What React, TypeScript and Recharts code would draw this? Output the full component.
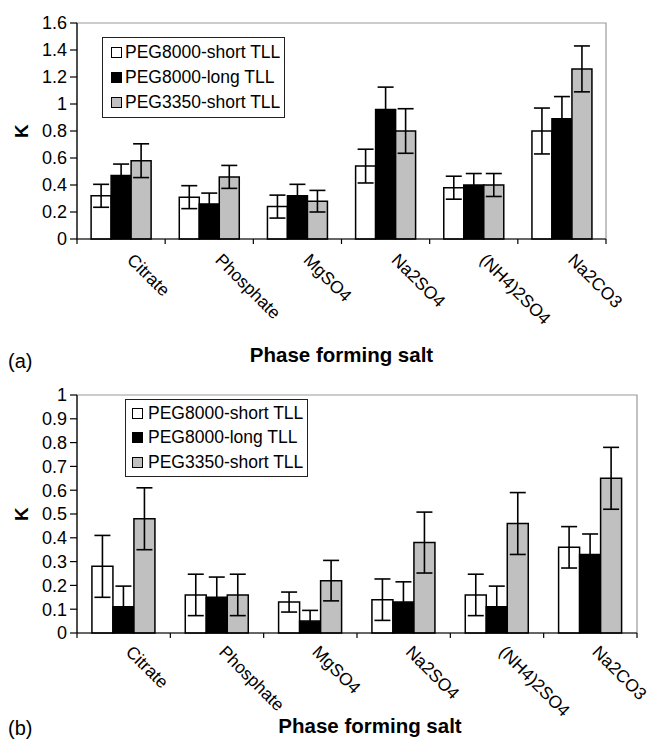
import { BarChart, Bar, XAxis, YAxis, ErrorBar, Legend, ReferenceArea } from "recharts";

const FONT = "'Liberation Sans', Arial, sans-serif";

const categories = ["Citrate", "Phosphate", "MgSO4", "Na2SO4", "(NH4)2SO4", "Na2CO3"];
const seriesNames = ["PEG8000-short TLL", "PEG8000-long TLL", "PEG3350-short TLL"];
const seriesColors = ["#ffffff", "#000000", "#c0c0c0"];

// panel (a)
const shortA = [0.32, 0.31, 0.24, 0.54, 0.38, 0.8];
const shortAErr = [0.085, 0.085, 0.085, 0.125, 0.085, 0.17];
const longA = [0.47, 0.26, 0.32, 0.96, 0.4, 0.89];
const longAErr = [0.085, 0.08, 0.085, 0.165, 0.085, 0.165];
const peg3350A = [0.58, 0.46, 0.28, 0.8, 0.4, 1.26];
const peg3350AErr = [0.125, 0.085, 0.08, 0.165, 0.085, 0.17];
const ticksA = [0, 0.2, 0.4, 0.6, 0.8, 1, 1.2, 1.4, 1.6];

// panel (b)
const shortB = [0.28, 0.16, 0.13, 0.14, 0.16, 0.36];
const shortBErr = [0.13, 0.087, 0.042, 0.087, 0.087, 0.087];
const longB = [0.11, 0.15, 0.05, 0.13, 0.11, 0.33];
const longBErr = [0.087, 0.085, 0.045, 0.085, 0.087, 0.086];
const peg3350B = [0.48, 0.16, 0.22, 0.38, 0.46, 0.65];
const peg3350BErr = [0.13, 0.087, 0.085, 0.128, 0.13, 0.13];
const ticksB = [0, 0.1, 0.2, 0.3, 0.4, 0.5, 0.6, 0.7, 0.8, 0.9, 1];

function buildRows(vals: number[][], errs: number[][]) {
  return categories.map((name, i) => ({
    name,
    s0: vals[0][i],
    e0: errs[0][i],
    s1: vals[1][i],
    e1: errs[1][i],
    s2: vals[2][i],
    e2: errs[2][i],
  }));
}

const rowsA = buildRows([shortA, longA, peg3350A], [shortAErr, longAErr, peg3350AErr]);
const rowsB = buildRows([shortB, longB, peg3350B], [shortBErr, longBErr, peg3350BErr]);

function SaltTick(props: any) {
  const { x, y, payload, halfBand, dx, dy } = props;
  const idx = payload.index ?? props.index;
  const tx = x + dx;
  const ty = y + dy;
  return (
    <g>
      <line x1={x - halfBand} x2={x - halfBand} y1={y} y2={y + 5} stroke="#000" strokeWidth={1.2} />
      {idx === categories.length - 1 && (
        <line x1={x + halfBand} x2={x + halfBand} y1={y} y2={y + 5} stroke="#000" strokeWidth={1.2} />
      )}
      <text
        x={tx}
        y={ty}
        transform={`rotate(45 ${tx} ${ty})`}
        fontSize={17.5}
        fontFamily={FONT}
        fill="#000"
        textAnchor="start"
      >
        {payload.value}
      </text>
    </g>
  );
}

function LegendBox(props: { padLeft: number; gap: number; rowH: number; padY: number }) {
  return (
    <div
      style={{
        border: "1px solid #222",
        background: "#fff",
        padding: `${props.padY}px 4px ${props.padY}px ${props.padLeft}px`,
        fontFamily: FONT,
        fontSize: 17.5,
        color: "#000",
      }}
    >
      {seriesNames.map((n, i) => (
        <div key={n} style={{ display: "flex", alignItems: "center", height: props.rowH, whiteSpace: "nowrap" }}>
          <span
            style={{
              display: "inline-block",
              width: 9,
              height: 9,
              border: "1px solid #000",
              background: seriesColors[i],
              marginRight: props.gap,
            }}
          />
          {n}
        </div>
      ))}
    </div>
  );
}

type PanelProps = {
  rows: any[];
  ticks: number[];
  max: number;
  margin: { top: number; right: number; left: number; bottom: number };
  halfBand: number;
  tickDx: number;
  tickDy: number;
  titleOffset: number;
  titleDx: number;
  legendPos: { left: number; top: number };
  legendLayout: { padLeft: number; gap: number; rowH: number; padY: number };
};

function Panel(p: PanelProps) {
  return (
    <BarChart
      width={647}
      height={370}
      data={p.rows}
      margin={p.margin}
      barCategoryGap="16%"
      barGap={0}
    >
      <ReferenceArea y1={0} y2={p.max} fill="none" stroke="#9a9a9a" strokeWidth={1.2} ifOverflow="visible" />
      <XAxis
        dataKey="name"
        height={30}
        tickLine={false}
        tickSize={0}
        tickMargin={0}
        interval={0}
        axisLine={{ stroke: "#000", strokeWidth: 1.2 }}
        tick={<SaltTick halfBand={p.halfBand} dx={p.tickDx} dy={p.tickDy} />}
        label={{
          value: "Phase forming salt",
          position: "bottom",
          offset: p.titleOffset,
          dx: p.titleDx,
          style: { fontFamily: FONT, fontSize: 20.5, fontWeight: "bold", fill: "#000" },
        }}
      />
      <YAxis
        width={70}
        domain={[0, p.max]}
        ticks={p.ticks}
        interval={0}
        tickSize={7}
        tickMargin={3}
        axisLine={{ stroke: "#000", strokeWidth: 1.2 }}
        tickLine={{ stroke: "#000", strokeWidth: 1.2 }}
        tick={{ fontFamily: FONT, fontSize: 18, fill: "#000" }}
        label={{
          value: "K",
          angle: -90,
          position: "insideLeft",
          offset: 14,
          style: { fontFamily: FONT, fontSize: 19, fontWeight: "bold", fill: "#000", textAnchor: "middle" },
        }}
      />
      <Legend
        layout="vertical"
        align="center"
        verticalAlign="middle"
        wrapperStyle={{ left: p.legendPos.left, top: p.legendPos.top, width: "auto" }}
        content={() => <LegendBox {...p.legendLayout} />}
      />
      {["s0", "s1", "s2"].map((k, i) => (
        <Bar
          key={k}
          dataKey={k}
          name={seriesNames[i]}
          fill={seriesColors[i]}
          stroke="#000"
          strokeWidth={1.5}
          isAnimationActive={false}
        >
          <ErrorBar dataKey={`e${i}`} width={8} stroke="#000" strokeWidth={1.6} isAnimationActive={false} />
        </Bar>
      ))}
    </BarChart>
  );
}

export default function App() {
  return (
    <div style={{ position: "absolute", left: 0, top: 0, width: 647, height: 740, background: "#fff", fontFamily: FONT }}>
      <div style={{ position: "absolute", left: 0, top: 0 }}>
        <Panel
          rows={rowsA}
          ticks={ticksA}
          max={1.6}
          margin={{ top: 23, right: 41, left: 7, bottom: 101 }}
          halfBand={(606 - 77) / 12}
          tickDx={5}
          tickDy={22}
          titleOffset={78}
          titleDx={0}
          legendPos={{ left: 102, top: 37 }}
          legendLayout={{ padLeft: 8, gap: 3, rowH: 25, padY: 2 }}
        />
      </div>
      <div style={{ position: "absolute", left: 8, top: 350, fontSize: 20, lineHeight: "22px" }}>(a)</div>
      <div style={{ position: "absolute", left: 0, top: 370 }}>
        <Panel
          rows={rowsB}
          ticks={ticksB}
          max={1}
          margin={{ top: 25, right: 10, left: 7, bottom: 77 }}
          halfBand={(637 - 77) / 12}
          tickDx={1}
          tickDy={20}
          titleOffset={55}
          titleDx={13}
          legendPos={{ left: 125, top: 29 }}
          legendLayout={{ padLeft: 6, gap: 5, rowH: 24.5, padY: 1 }}
        />
      </div>
      <div style={{ position: "absolute", left: 8, top: 717, fontSize: 20, lineHeight: "22px" }}>(b)</div>
    </div>
  );
}
